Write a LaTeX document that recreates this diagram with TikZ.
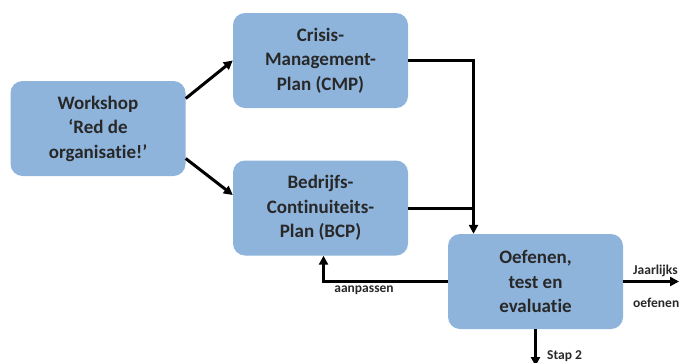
\documentclass[tikz,border=0pt]{standalone}
\usepackage{fontspec}
\setmainfont{Carlito}[Ligatures=NoCommon]
\usetikzlibrary{arrows.meta}
\definecolor{boxblue}{RGB}{142,180,220}
\definecolor{boxtext}{RGB}{40,40,40}
\tikzset{
  planbox/.style={fill=boxblue, rounded corners=12pt, minimum width=175pt, minimum height=95pt,
    inner sep=2pt, align=center, text=boxtext, font=\fontsize{19}{24.5}\selectfont\bfseries},
  flow/.style={line width=3pt, -{Triangle[length=9pt,width=9pt]}},
  flowline/.style={line width=3pt},
  steplabel/.style={font=\fontsize{13.5}{15}\selectfont\bfseries, text=boxtext, inner sep=0pt}
}
\begin{document}
\begin{tikzpicture}[x=1pt, y=-1pt]
  \useasboundingbox (0,0) rectangle (679,362);
  \clip (0,0) rectangle (679,362);
  % Nodes
  \node[planbox] (work) at (98, 128.5) {Workshop\\`Red de\\organisatie!'};
  \node[planbox] (cmp) at (320.5, 60.5) {Crisis-\\Management-\\Plan (CMP)};
  \node[planbox] (bcp) at (320.5, 208) {Bedrijfs-\\Continuiteits-\\Plan (BCP)};
  \node[planbox] (oef) at (535.5, 281.5) {Oefenen,\\test en\\evaluatie};

  \coordinate (drop) at ([xshift=-62pt]oef.north);
  \coordinate (jaar) at (679, 281.5);
  \coordinate (stap) at (535.5, 366);

  % Connectors
  \draw[flow] ([yshift=30pt]work.east) -- (cmp.west);
  \draw[flow] ([yshift=-30pt]work.east) -- ([yshift=13pt]bcp.west);
  \draw[flow] (cmp.east) -| (drop);
  \draw[flowline] (bcp.east) -- (bcp.east -| drop);
  \draw[flow] (oef.west) -| ([xshift=3pt]bcp.south);
  \draw[flow] (oef.east) -- (jaar);
  \draw[flow] (oef.south) -- (stap);

  % Labels
  \node[steplabel] (aanp) at (364, 290) {aanpassen};
  \node[steplabel, anchor=west] (jaarl) at (633, 271) {Jaarlijks};
  \node[steplabel, anchor=west] (oefl) at (633, 303) {oefenen};
  \node[steplabel, anchor=west] (stapl) at (547, 356) {Stap 2};
\end{tikzpicture}
\end{document}
